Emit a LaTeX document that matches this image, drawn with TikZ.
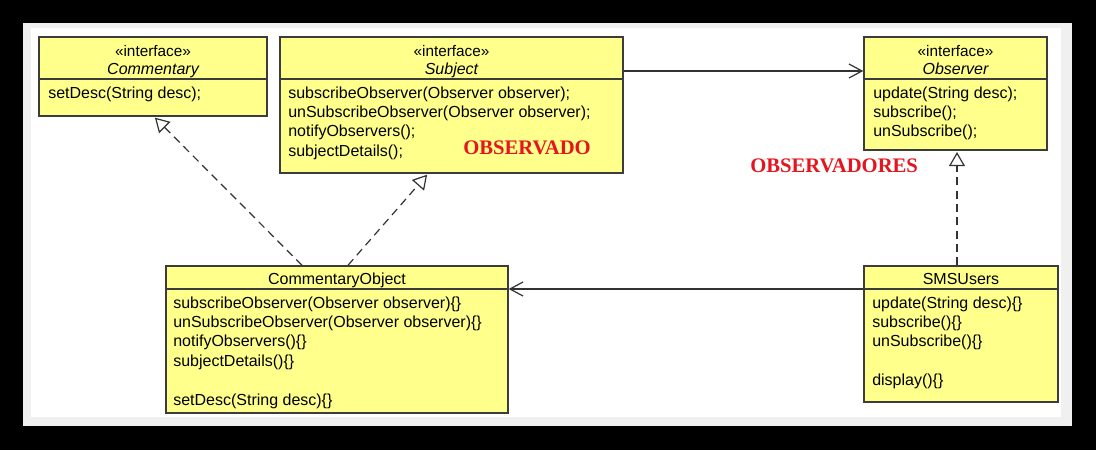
\documentclass[tikz,border=0pt]{standalone}
\usepackage{fontspec}
\setmainfont{Liberation Sans}
\newfontfamily\notefont{Liberation Serif}
\usetikzlibrary{arrows.meta,fit}

\definecolor{classfill}{RGB}{255,255,140}
\definecolor{classdraw}{RGB}{60,60,60}
\definecolor{linegray}{RGB}{50,50,50}
\definecolor{notered}{RGB}{230,20,30}
\definecolor{framegray}{RGB}{240,240,240}

\tikzset{
  classbox/.style={draw=classdraw, fill=classfill, line width=1.1pt, inner sep=0pt},
  classline/.style={draw=classdraw, line width=1.1pt},
  stereo/.style={anchor=base, inner sep=0pt, font=\fontsize{11.5}{13}\selectfont},
  classname/.style={anchor=base, inner sep=0pt, font=\fontsize{12}{14}\selectfont},
  member/.style={anchor=base west, inner sep=0pt, font=\fontsize{12}{14}\selectfont},
  realize/.style={draw=linegray, line width=0.9pt, dash pattern=on 6pt off 4pt, shorten >=1pt,
    -{Triangle[length=10.5pt,width=12pt,fill=white]}},
  assoc/.style={draw=linegray, line width=0.9pt, -{Straight Barb[length=9.75pt,width=10.5pt]}},
  note/.style={anchor=base west, inner sep=0pt, text=notered, font=\notefont\bfseries\fontsize{15.5}{18}\selectfont}
}

\begin{document}
\begin{tikzpicture}[x=0.75pt, y=-0.75pt]
% frame
\fill[black] (0,0) rectangle (1096,450);
\fill[framegray] (23,23) rectangle (1072,426);
\fill[white] (31,28) rectangle (1061,417);

% interfaces
\node[classbox, fit={(39,37) (267,116)}] (comm) {};
\node[classbox, fit={(280,37) (623,173)}] (subj) {};
\node[classbox, fit={(864,37) (1047,150)}] (obs) {};
% classes
\node[classbox, fit={(166,266) (508,413)}] (co) {};
\node[classbox, fit={(864,266) (1058,402)}] (sms) {};

% header / body dividers
\foreach \b/\y in {comm/79, subj/79, obs/79, co/289, sms/289}
  \draw[classline] (\b.west |- 0,\y) -- (\b.east |- 0,\y);

% headers
\foreach \b/\n in {comm/Commentary, subj/Subject, obs/Observer}{
  \node[stereo] (\b-st) at (\b.north |- 0,56.5) {«interface»};
  \node[classname] (\b-nm) at (\b.north |- 0,74.5) {\itshape \n};
}
\node[classname] (co-nm) at (co.north |- 0,284.5) {CommentaryObject};
\node[classname] (sms-nm) at (sms.north |- 0,284.5) {SMSUsers};

% members
\foreach \i/\m in {1/setDesc(String desc);}
  \node[member] (comm-m\i) at (48,{78.6+19.4*\i}) {\m};
\foreach \i/\m in {1/subscribeObserver(Observer observer);, 2/unSubscribeObserver(Observer observer);,
    3/notifyObservers();, 4/subjectDetails();}
  \node[member] (subj-m\i) at (288,{78.6+19.4*\i}) {\m};
\foreach \i/\m in {1/update(String desc);, 2/subscribe();, 3/unSubscribe();}
  \node[member] (obs-m\i) at (873,{78.6+19.4*\i}) {\m};
\foreach \i/\m in {1/subscribeObserver(Observer observer)\{\}, 2/unSubscribeObserver(Observer observer)\{\},
    3/notifyObservers()\{\}, 4/subjectDetails()\{\}, 6/setDesc(String desc)\{\}}
  \node[member] (co-m\i) at (173,{288.6+19.4*\i}) {\m};
\foreach \i/\m in {1/update(String desc)\{\}, 2/subscribe()\{\}, 3/unSubscribe()\{\}, 5/display()\{\}}
  \node[member] (sms-m\i) at (872,{288.6+19.4*\i}) {\m};

% relations
\draw[assoc] (subj.east |- 0,71) -- (obs.west |- 0,71);
\draw[assoc] (sms.west |- 0,289) -- (co.east |- 0,289);
\draw[realize] (302,0 |- co.north) -- (154,0 |- comm.south);
\draw[realize] (348,0 |- co.north) -- (428,0 |- subj.south);
\draw[realize] (957,0 |- sms.north) -- (957,0 |- obs.south);

% notes
\node[note] (observado) at (463,154.5) {OBSERVADO};
\node[note] (observadores) at (750,172.5) {OBSERVADORES};
\end{tikzpicture}
\end{document}
